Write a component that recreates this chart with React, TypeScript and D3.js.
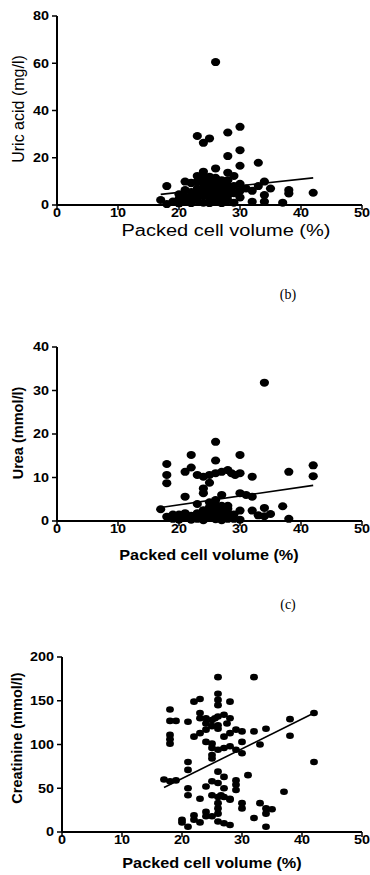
import React from 'react'
import * as d3 from 'd3'

// packed cell volume (%) vs value
const uricAcidPoints: [number, number][] = [
  [26, 60.5], [23, 29.2], [25, 28.2], [24, 26.3], [28, 30.7], [30, 33.1], [30, 23.2], [28, 20.7],
  [30, 16.6], [33, 17.9], [26, 15.5], [28, 13.7], [29, 12.3], [24, 14.1], [23, 12.3], [21, 9.9],
  [22, 9.4], [18, 8], [34, 9.9], [35, 7], [38, 6.3], [38, 4.9], [42, 5.2], [34, 4.2], [34, 1.4],
  [32, 1.4], [37, 1], [30, 3.2], [17, 2.1], [18, 0.4], [20, 0.7], [21, 1.4], [21, 6.3], [22, 9.2],
  [22, 3], [22, 5.5], [23, 2], [23, 7], [23, 10], [24, 1], [24, 4], [24, 6.5], [24, 9], [24, 11.5],
  [25, 0.8], [25, 3], [25, 5], [25, 7.5], [25, 10], [25, 12], [26, 1.5], [26, 3.5], [26, 5.5],
  [26, 7], [26, 8.5], [26, 10], [26, 11.5], [27, 0.8], [27, 3], [27, 5], [27, 7], [27, 9],
  [27, 10.5], [28, 2], [28, 4], [28, 6], [28, 8], [28, 10.5], [29, 1], [29, 5], [29, 8], [30, 6],
  [30, 9], [31, 7], [32, 6], [33, 8], [20, 2.5], [20, 4.5], [19, 1.5], [22, 0.8], [23, 4.5], [21, 3.5],
]

const ureaPoints: [number, number][] = [
  [34, 31.8], [26, 18.2], [22, 15.2], [30, 15.2], [26, 13.9], [18, 13.1], [18, 10.6], [18, 8.7],
  [22, 12.3], [21, 11.3], [23, 10.6], [24, 10.2], [25, 10.6], [26, 11], [27, 11.3], [28, 11.7],
  [28.6, 11], [29.2, 10.6], [30, 11], [32, 10.2], [38, 11.3], [42, 12.8], [42, 10.3], [25, 8.8],
  [24, 7.5], [24, 6.4], [21, 5.6], [27, 6], [30, 6.4], [31, 6], [32, 5.6], [17, 2.7], [23, 3.9],
  [30, 2.4], [32, 2.4], [34, 3], [37, 3.4], [33, 1.3], [34, 1.1], [35, 1.6], [38, 0.5],
  [18, 1], [19, 0.5], [20, 1.5], [20, 0.3], [21, 0.8], [22, 1.2], [23, 1.8], [23, 0.5], [24, 1.3],
  [24, 2.5], [25, 0.8], [25, 2], [25, 3.2], [26, 0.4], [26, 1.5], [26, 2.7], [26, 3.8], [26, 4.8],
  [27, 1], [27, 2.3], [27, 3.5], [28, 0.5], [28, 1.8], [28, 3.5], [29, 0.5], [29, 1.5], [30, 0.3],
  [22, 0.3], [24, 0.2], [27, 0.2], [25, 4.3], [28, 2.8], [21, 1.8], [19, 1.5],
]

const creatininePoints: [number, number][] = [
  [26, 177], [32, 177], [26, 158], [26, 151], [26, 145], [22, 149], [23, 152], [28, 149], [18, 140],
  [18, 127], [19, 127], [21, 126], [23, 136], [23, 130], [24, 130], [25, 128], [25.5, 130], [26, 132],
  [27, 134], [28, 130], [27.5, 124], [26, 122], [24, 124], [22, 109], [23, 113], [24, 117], [25, 121],
  [26, 118], [27, 109], [28, 113], [29, 117], [30, 115], [32, 115], [34, 118], [38, 129], [42, 136],
  [38, 110], [42, 80], [18, 111], [18, 106], [18, 101], [24, 103], [25, 101], [25, 96], [26, 94],
  [27, 96], [28, 98], [29, 94], [30, 90], [30, 103], [33, 100], [25, 84], [25, 88], [21, 80], [21, 71],
  [17, 60], [18, 58], [19, 59], [31, 65], [26, 69], [27, 63], [29, 59], [29, 54], [29, 48], [25, 58],
  [24, 52], [26, 56], [27, 50], [21, 50], [21, 42], [23, 38], [25, 42], [26, 40], [26.5, 42], [27, 40],
  [28, 37], [30, 33], [30, 27], [32, 16], [33, 33], [34, 27], [34, 21], [35, 26], [37, 46], [34, 6],
  [20, 14], [20, 11], [21, 6], [22, 19], [22, 14], [23, 11], [24, 23], [24, 18], [25, 18], [26, 33],
  [26, 27], [26, 21], [26, 12], [27, 10], [28, 8], [28, 38],
]

// regression lines as drawn: [intercept, slope]
const uricAcidFit = [-0.26, 0.28]
const ureaFit = [-0.37, 0.204]
const creatinineFit = [-6.9, 3.4]
const fitRange = [17, 42]

const xTicks = [0, 10, 20, 30, 40, 50]
const uricTicks = [0, 20, 40, 60, 80]
const ureaTicks = [0, 10, 20, 30, 40]
const creatinineTicks = [0, 50, 100, 150, 200]

const SX = 1.2 // the scan is stretched sideways
const sans = 'Liberation Sans, Arial, sans-serif'

type PanelProps = {
  points: [number, number][]
  fit: number[]
  yTicks: number[]
  left: number
  top: number
  bottom: number
  yTitle: string
  boldTitles: boolean
  xTitleY: number
  xTitleX: number
  yTitleX: number
  yTitleY: number
  rx: number
  ry: number
}

function Panel(p: PanelProps) {
  const x = d3.scaleLinear().domain([0, 50]).range([p.left, 362])
  const y = d3.scaleLinear().domain([0, d3.max(p.yTicks) as number]).range([p.bottom, p.top])
  const line = d3.line<number>()
    .x(d => x(d))
    .y(d => y(p.fit[0] + p.fit[1] * d))
  const tw = p.boldTitles ? 'bold' : 'normal'
  const tsize = p.boldTitles ? 14.5 : 16

  return (
    <g>
      {p.points.map((d, i) => (
        <ellipse key={i} cx={x(d[0])} cy={y(d[1])} rx={p.rx} ry={p.ry} fill="#000" />
      ))}
      <path d={line(fitRange) || ''} stroke="#000" strokeWidth={1.6} fill="none" />
      <line x1={p.left} x2={p.left} y1={p.top} y2={p.bottom} stroke="#000" strokeWidth={2} />
      <line x1={p.left} x2={362} y1={p.bottom} y2={p.bottom} stroke="#000" strokeWidth={2} />
      {p.yTicks.map(t => (
        <g key={'y' + t}>
          <line x1={p.left - 5} x2={p.left} y1={y(t)} y2={y(t)} stroke="#000" strokeWidth={1.5} />
          <text transform={`translate(${p.left - 8},${y(t) + 4.3}) scale(${SX},1)`} textAnchor="end"
            fontFamily={sans} fontWeight="bold" fontSize={12}>{t}</text>
        </g>
      ))}
      {xTicks.map(t => (
        <g key={'x' + t}>
          <line x1={x(t)} x2={x(t)} y1={p.bottom} y2={p.bottom + 5} stroke="#000" strokeWidth={1.5} />
          <text transform={`translate(${x(t)},${p.bottom + 12}) scale(${SX},1)`} textAnchor="middle"
            fontFamily={sans} fontWeight="bold" fontSize={12}>{t}</text>
        </g>
      ))}
      <text transform={`translate(${p.xTitleX},${p.xTitleY}) scale(${p.boldTitles ? 1.12 : 1.25},1)`}
        textAnchor="middle" fontFamily={sans} fontWeight={tw} fontSize={tsize}>Packed cell volume (%)</text>
      <text transform={`translate(${p.yTitleX},${p.yTitleY}) rotate(-90)`}
        textAnchor="middle" fontFamily={sans} fontWeight={tw} fontSize={tsize}>{p.yTitle}</text>
    </g>
  )
}

export default function App() {
  return (
    <svg width={370} height={875} style={{ position: 'absolute', left: 0, top: 0, background: '#fff' }}>
      <Panel points={uricAcidPoints} fit={uricAcidFit} yTicks={uricTicks} left={57} top={16} bottom={205}
        yTitle="Uric acid (mg/l)" boldTitles={false} xTitleX={226} xTitleY={236} yTitleX={24} yTitleY={109}
        rx={4.6} ry={4} />
      <text x={288} y={299} textAnchor="middle" fontFamily="Liberation Serif, Times New Roman, serif" fontSize={14}>(b)</text>
      <Panel points={ureaPoints} fit={ureaFit} yTicks={ureaTicks} left={57} top={347} bottom={521}
        yTitle="Urea (mmol/l)" boldTitles={true} xTitleX={209} xTitleY={560} yTitleX={23} yTitleY={433}
        rx={4.6} ry={4} />
      <text x={288} y={609} textAnchor="middle" fontFamily="Liberation Serif, Times New Roman, serif" fontSize={14}>(c)</text>
      <Panel points={creatininePoints} fit={creatinineFit} yTicks={creatinineTicks} left={62} top={657} bottom={832}
        yTitle="Creatinine (mmol/l)" boldTitles={true} xTitleX={212} xTitleY={868} yTitleX={22} yTitleY={738}
        rx={3.9} ry={3.3} />
    </svg>
  )
}
